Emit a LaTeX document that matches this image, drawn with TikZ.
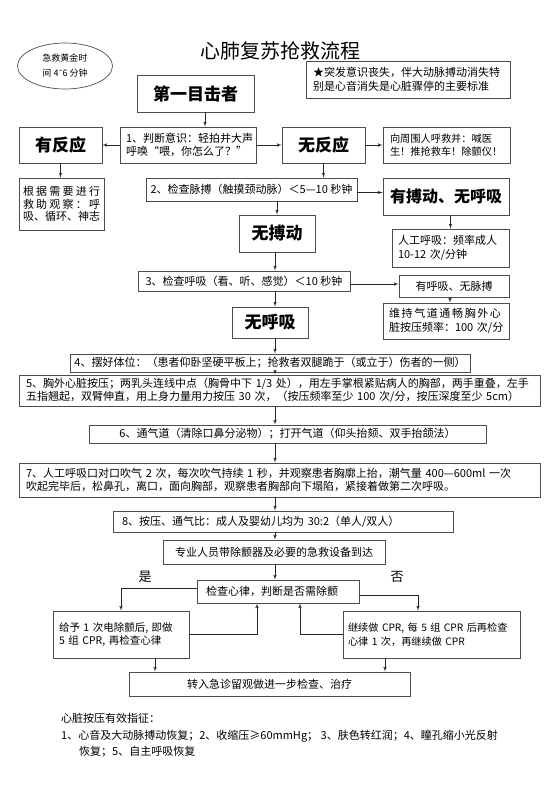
\documentclass[tikz,border=0pt]{standalone}
\usepackage{fontspec}
\setmainfont{Noto Sans CJK SC}
\newfontfamily\symfont{DejaVu Sans}
\usetikzlibrary{arrows,shapes.geometric,calc}

\begin{document}
\begin{tikzpicture}[>=latex',
	box/.style={draw=black!70, line width=0.7bp, inner sep=0pt, align=center, font=\fontsize{11bp}{13.5bp}\selectfont},
	lbox/.style={box, align=left},
	big/.style={box, font=\bfseries\fontsize{17bp}{20bp}\selectfont},
	sz/.style 2 args={minimum width=#1bp, minimum height=#2bp},
	flow/.style={->, line width=0.7bp, draw=black!85}]
	\useasboundingbox (0bp,0bp) rectangle (560bp,-792bp);
	\coordinate (col) at (275bp,0bp);

	\node (title) at (280bp,-51bp) {\fontsize{20bp}{24bp}\selectfont 心肺复苏抢救流程};
	\node (gold) at (65bp,-66bp) [ellipse, draw=black!70, line width=0.7bp, minimum width=95bp, minimum height=46bp, inner sep=0pt, align=left, font=\fontsize{9bp}{15bp}\selectfont] {急救黄金时\\间 4{\symfont\fontsize{8bp}{10bp}\selectfont ˜}6 分钟};
	\node (std) at (408bp,-79.5bp) [lbox, sz={204}{37}, text width=190bp] {★突发意识丧失，伴大动脉搏动消失特\\别是心音消失是心脏骤停的主要标准};

	\node (witness) at (195.5bp,-93.5bp) [big, sz={117}{37}] {第一目击者};
	\node (resp) at (60.5bp,-145bp) [big, sz={83}{36}] {有反应};
	\node (judge) at (188bp,-145bp) [lbox, sz={136}{36}, text width=124bp] {1、判断意识：轻拍并大声\\呼唤“喂，你怎么了？”};
	\node (noresp) at (323.5bp,-145bp) [big, sz={83}{36}] {无反应};
	\node (call) at (446.5bp,-145bp) [lbox, sz={127}{36}, text width=113bp, font=\fontsize{10.2bp}{13.5bp}\selectfont] {向周围人呼救并：喊医\\生！推抢救车！除颤仪！};
	\node (observe) at (61.5bp,-204bp) [lbox, sz={85}{52}, text width=77bp, font=\fontsize{11bp}{12.8bp}\selectfont] {\makebox[77bp][s]{根\hfill 据\hfill 需\hfill 要\hfill 进\hfill 行}\\\makebox[77bp][s]{救\hfill 助\hfill 观\hfill 察\hfill ：\hfill 呼}\\吸、循环、神志};

	\node (pulse) at (251.5bp,-189.5bp) [box, sz={211}{23}] {2、检查脉搏（触摸颈动脉）＜5—10 秒钟};
	\node (hasp) at (446bp,-196.5bp) [big, sz={126}{37}, font=\bfseries\fontsize{16bp}{20bp}\selectfont] {有搏动、无呼吸};
	\node (rescue) at (450.5bp,-248bp) [lbox, sz={117}{38}, text width=105bp] {人工呼吸：频率成人\\10-12~次/分钟};
	\node (nopulse) at (277bp,-233.5bp) [big, sz={76}{37}] {无搏动};

	\node (breath) at (244bp,-281bp) [box, sz={212}{20}] {3、检查呼吸（看、听、感觉）＜10 秒钟};
	\node (hasb) at (454bp,-286bp) [box, sz={110}{22}] {有呼吸、无脉搏};
	\node (keep) at (446bp,-321bp) [lbox, sz={126}{36}, text width=114bp] {\makebox[112bp][s]{维\hfill 持\hfill 气\hfill 道\hfill 通\hfill 畅\hfill 胸\hfill 外\hfill 心}\\脏按压频率：100~次/分};
	\node (nobreath) at (270bp,-322.5bp) [big, sz={76}{31}] {无呼吸};

	\node (pose) at (270bp,-363bp) [box, sz={400}{18}] {4、摆好体位：（患者仰卧坚硬平板上；抢救者双腿跪于（或立于）伤者的一侧）};
	\node (press) at (279.5bp,-390.5bp) [lbox, sz={521}{31}, text width=507bp] {5、胸外心脏按压；两乳头连线中点（胸骨中下 1/3 处），用左手掌根紧贴病人的胸部，两手重叠，左手\\五指翘起，双臂伸直，用上身力量用力按压 30 次，（按压频率至少 100 次/分，按压深度至少 5cm）};
	\node (airway) at (287.5bp,-434bp) [box, sz={397}{18}] {6、通气道（清除口鼻分泌物）；打开气道（仰头抬颏、双手抬颌法）};
	\node (mouth) at (279.5bp,-480bp) [lbox, sz={521}{34}, text width=507bp] {7、人工呼吸口对口吹气 2 次，每次吹气持续 1 秒，并观察患者胸廓上抬，潮气量 400—600ml 一次\\吹起完毕后，松鼻孔，离口，面向胸部，观察患者胸部向下塌陷，紧接着做第二次呼吸。};
	\node (ratio) at (283bp,-521.5bp) [lbox, sz={340}{21}, text width=322bp] {8、按压、通气比：成人及婴幼儿均为 30:2（单人/双人）};
	\node (arrive) at (274bp,-552bp) [box, sz={222}{24}] {专业人员带除颤器及必要的急救设备到达};
	\node (check) at (278bp,-591.5bp) [lbox, sz={162}{23}, text width=144bp] {检查心律，判断是否需除颤};
	\node (shock) at (121bp,-634.5bp) [lbox, sz={136}{47}, text width=124bp, font=\fontsize{10.5bp}{13.5bp}\selectfont] {给予~1~次电除颤后,~即做\\5~组~CPR,~再检查心律};
	\node (cont) at (431.5bp,-634.5bp) [lbox, sz={177}{47}, text width=167bp, font=\fontsize{10.2bp}{13.5bp}\selectfont] {继续做~CPR,~每~5~组~CPR~后再检查\\心律~1~次，再继续做~CPR};
	\node (final) at (269.5bp,-684bp) [box, sz={281}{24}] {转入急诊留观做进一步检查、治疗};

	\node (yes) at (145bp,-577bp) {\fontsize{13bp}{15bp}\selectfont 是};
	\node (no) at (397bp,-577bp) {\fontsize{13bp}{15bp}\selectfont 否};

	\node (note1) at (61bp,-718bp) [anchor=west, inner sep=0pt, font=\fontsize{11bp}{13bp}\selectfont] {心脏按压有效指征：};
	\node (note2) at (61bp,-736bp) [anchor=west, inner sep=0pt, font=\fontsize{11bp}{13bp}\selectfont] {1、心音及大动脉搏动恢复；2、收缩压≥60mmHg；\ 3、肤色转红润；4、瞳孔缩小光反射};
	\node (note3) at (79bp,-752bp) [anchor=west, inner sep=0pt, font=\fontsize{11bp}{13bp}\selectfont] {恢复；5、自主呼吸恢复};

	\draw [flow] ([xshift=9.5bp]witness.south) -- ([xshift=9.5bp]witness.south |- judge.north);
	\draw [flow] (judge) -- (resp);
	\draw [flow] (judge) -- (noresp);
	\draw [flow] (noresp) -- (call);
	\draw [flow] (resp) -- (resp |- observe.north);
	\draw [flow] (noresp) -- (noresp |- pulse.north);
	\draw [flow] ([yshift=-3bp]pulse.east) -- ([yshift=-3bp]pulse.east -| hasp.west);
	\draw [flow] (rescue.north |- hasp.south) -- (rescue.north);
	\draw [flow] (nopulse.north |- pulse.south) -- (nopulse);
	\draw [flow] (col |- nopulse.south) -- (col |- breath.north);
	\draw [flow] ([yshift=-3bp]breath.east) -- ([yshift=-3bp]breath.east -| hasb.west);
	\draw [flow] ([xshift=4bp]keep.north |- hasb.south) -- ([xshift=4bp]keep.north);
	\draw [flow] (col |- breath.south) -- (col |- nobreath.north);
	\draw [flow] (col |- nobreath.south) -- (col |- pose.north);
	\draw [flow] (col |- pose.south) -- (col |- press.north);
	\draw [flow] (col |- press.south) -- (col |- airway.north);
	\draw [flow] (col |- airway.south) -- (col |- mouth.north);
	\draw [flow] (col |- mouth.south) -- (col |- ratio.north);
	\draw [flow] (col |- ratio.south) -- (col |- arrive.north);
	\draw [flow] (col |- arrive.south) -- (col |- check.north);

	\draw [flow] ([yshift=3.5bp]check.west) -| (shock.north);
	\draw [flow] ([yshift=-3.5bp]check.east) -| ([xshift=-13.5bp]cont.north);
	\draw [flow] (shock.east) -| ([xshift=-21bp]check.south);
	\draw [flow] (cont.west) -| ([xshift=22bp]check.south);
	\draw [flow] ([xshift=34bp]shock.south) -- ([xshift=34bp]shock.south |- final.north);
	\draw [flow] ([xshift=-46.5bp]cont.south) -- ([xshift=-46.5bp]cont.south |- final.north);
\end{tikzpicture}
\end{document}
